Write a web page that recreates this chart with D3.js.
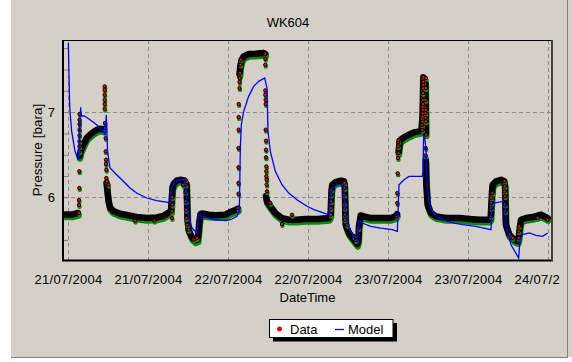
<!DOCTYPE html>
<html><head><meta charset="utf-8">
<script src="https://cdn.jsdelivr.net/npm/d3@7"></script>
<style>
html,body{margin:0;padding:0;background:#fff;}
svg{display:block;font-family:"Liberation Sans",Arial,sans-serif;}
</style></head>
<body>
<svg id="chart" width="572" height="362"></svg>
<script>
// ---------- data (hours since 21/07/2004 00:00, pressure in bara) ----------
const chartTitle = "WK604";
const xTitle = "DateTime";
const yTitle = "Pressure [bara]";
const xTickHours = [0, 12, 24, 36, 48, 60, 72];
const xTickLabels = ["21/07/2004","21/07/2004","22/07/2004","22/07/2004","23/07/2004","23/07/2004","24/07/2004"];
const yTickValues = [6, 7];
const seriesNames = ["Data", "Model"];

// dense logged record (null = break in the record trace)
const dataBandHours = [
  -0.45, 0.6, 1.5, null,
  1.73, 1.95, 2.3, 2.8, 3.3, 3.8, 4.3, 4.8, 5.33, null,
  5.78, 5.93, 6.08, 6.3, 6.8, 7.8, 8.8, 10.3, 11.8, 13.3, 14.3, 15.0, 15.45,
  15.68, 15.9, 16.3, 16.8, 17.4, 17.78,
  17.93, 18.1, 18.6, 19.1, 19.46, 19.58, 19.7, 19.88, 20.1, 21.1, 22.1, 23.6, 24.35, 25.1, 25.5, null,
  25.73, 25.85, 26.03, 26.35, 27.1, 28.1, 29.35, 29.6, null,
  29.7, 29.85, 30.35, 31.1, 32.1, 33.1, 34.35, 35.6, 37.4, 39.15, 39.38,
  39.53, 39.65, 40.15, 40.9, 41.4, 41.5,
  41.63, 41.66, 42.15, 42.9, 43.4, 43.55, 43.65, 43.9, 44.4, 45.4, 46.9, 48.4, 49.15, 49.35, null,
  49.58, 49.73, 49.9, 50.4, 51.15, 51.9, 52.65, 53.0, 53.18, 53.3, 53.6, 53.68, null,
  53.65, 53.75, 53.95, 54.45, 55.2, 56.7, 58.7, 60.2, 61.7, 63.2, 63.4,
  63.6, 63.7, 64.2, 64.95, 65.45, 65.55,
  65.66, 65.7, 66.2, 66.95, 67.46, 67.6, 67.76, 67.95, 68.7, 69.7, 70.95, 71.95
];
const dataBandBara = [
  5.798, 5.798, 5.816, null,
  6.484, 6.555, 6.617, 6.695, 6.734, 6.766, 6.789, 6.804, 6.795, null,
  6.168, 6.062, 5.957, 5.880, 5.839, 5.808, 5.793, 5.769, 5.757, 5.763, 5.781, 5.816, 5.839,
  6.121, 6.162, 6.195, 6.206, 6.197, 6.156,
  5.734, 5.617, 5.529, 5.494, 5.505, 5.593, 5.710, 5.804, 5.810, 5.796, 5.789, 5.796, 5.828, 5.851, 5.866, null,
  7.445, 7.539, 7.610, 7.653, 7.680, 7.683, 7.692, 7.680, null,
  6.015, 5.953, 5.895, 5.816, 5.757, 5.737, 5.737, 5.746, 5.746, 5.757, 5.793,
  6.086, 6.148, 6.179, 6.195, 6.188, 6.133,
  5.722, 5.679, 5.582, 5.503, 5.453, 5.499, 5.664, 5.787, 5.777, 5.757, 5.757, 5.757, 5.777, 5.804, null,
  6.531, 6.637, 6.675, 6.703, 6.734, 6.762, 6.774, 6.781, 6.950, 7.407, 7.350, 6.750, null,
  6.437, 6.148, 5.913, 5.816, 5.777, 5.757, 5.757, 5.746, 5.737, 5.737, 5.757,
  6.062, 6.148, 6.188, 6.206, 6.188, 6.133,
  5.722, 5.679, 5.562, 5.503, 5.484, 5.523, 5.640, 5.737, 5.757, 5.769, 5.796, 5.757
];

// individually visible data markers
const markerHours = [
  1.65,1.65,1.65,1.7,1.7,1.73,1.73,1.73,1.73,1.73,1.73,1.73,1.73,
  5.5,5.5,5.5,5.5,5.5,5.5,5.55,5.55,5.65,5.65,5.7,5.7,5.75,5.75,5.85,6.05,
  10.05,12.95,
  15.6,15.6,15.65,15.65,17.25,
  17.63,17.65,17.65,17.7,17.7,17.75,17.85,18.1,18.85,19.35,
  25.55,25.58,25.58,25.58,25.58,25.6,25.6,25.6,25.73,25.73,25.75,25.8,25.85,25.9,
  29.6,29.6,29.6,29.6,29.6,29.65,29.65,29.65,29.7,29.7,29.7,29.75,29.75,29.75,29.8,29.8,29.85,30.35,32.1,33.6,
  39.4,39.4,39.45,39.45,39.5,
  41.45,41.48,41.48,41.5,41.5,41.55,41.55,
  41.9,42.9,43.2,43.55,
  49.35,49.4,49.4,49.45,49.5,49.55,49.55,49.55,49.58,
  53.15,53.15,53.18,53.18,53.2,53.2,53.2,53.25,53.25,53.25,53.25,53.3,53.3,53.3,
  53.63,53.63,53.63,53.65,53.65,53.65,53.7,53.7,53.7,53.7,53.7,
  63.45,63.45,63.5,63.5,63.7,
  65.48,65.5,65.5,65.55,65.55,65.6,
  66.2,66.7,67.6,67.6,67.65,
  70.45,71.95
];
const markerBara = [
  5.816,5.910,5.968,6.109,6.305,6.539,6.598,6.657,6.727,6.793,6.859,6.910,6.977,
  7.301,7.261,7.203,7.144,7.094,7.039,6.871,6.812,6.695,6.539,6.441,6.390,6.324,6.226,6.188,6.148,
  5.726,5.726,
  5.757,5.836,5.913,6.0,6.148,
  6.206,6.148,6.062,5.953,5.855,5.757,5.679,5.620,5.503,5.523,
  5.875,6.042,6.168,6.352,6.578,6.793,6.941,7.094,7.281,7.352,7.399,7.457,7.554,7.613,
  7.680,7.625,7.554,7.254,7.203,7.144,7.094,6.793,6.664,6.558,6.469,6.363,6.305,6.246,6.206,6.148,6.070,5.933,5.687,5.796,
  5.796,5.875,5.953,6.031,6.089,
  6.168,6.109,6.031,5.933,5.875,5.796,5.737,
  5.679,5.543,5.499,5.640,
  5.777,5.933,6.050,6.281,6.461,6.519,6.598,6.648,6.672,
  6.789,6.848,6.886,6.945,6.985,7.023,7.062,7.094,7.141,7.223,7.278,7.320,7.355,7.407,
  7.141,7.047,6.988,6.930,6.578,6.492,7.027,6.891,6.734,7.399,7.281,
  5.777,5.875,5.933,5.992,6.050,
  6.188,6.129,6.070,6.012,5.913,5.836,
  5.562,5.523,5.523,5.601,5.660,
  5.757,5.737
];

// model curve
const modelHours = [
  0.05,0.23,0.3,0.55,1.05,1.55,1.7,1.9,1.98,2.55,3.3,4.3,5.05,5.55,5.75,5.93,6.3,7.3,8.3,9.3,10.3,11.8,13.3,14.8,15.3,
  15.55,16.05,16.8,17.55,17.85,18.1,18.6,19.35,19.6,20.1,21.1,22.1,23.6,24.35,25.35,25.7,
  25.85,26.0,26.35,27.1,27.85,28.6,29.5,29.85,30.0,30.35,31.1,32.1,33.1,34.35,35.85,36.9,38.4,39.15,
  39.4,39.65,40.4,41.3,41.66,42.15,42.9,43.4,43.65,44.15,45.4,46.9,48.65,49.4,
  49.65,50.4,51.15,53.15,53.25,53.35,53.55,53.7,53.85,54.2,54.95,56.2,57.7,59.2,61.2,63.45,
  63.6,63.95,65.2,65.55,65.7,66.45,67.6,67.8,68.2,69.2,70.2,71.2,71.95
];
const modelBara = [
  7.809,7.141,7.008,6.774,6.539,6.441,6.695,7.055,6.961,6.950,6.910,6.851,6.793,6.734,6.968,6.539,6.344,6.265,6.188,6.109,6.050,5.992,5.960,5.945,5.933,
  6.109,6.188,6.206,6.206,5.913,5.757,5.640,5.582,5.796,5.777,5.757,5.737,5.726,5.737,5.777,5.836,
  6.578,6.851,7.008,7.184,7.301,7.360,7.399,7.281,6.774,6.539,6.305,6.148,6.050,5.972,5.895,5.855,5.816,5.796,
  6.031,6.109,6.148,6.148,5.796,5.640,5.543,5.484,5.719,5.699,5.660,5.640,5.620,5.601,
  6.148,6.206,6.246,6.246,6.305,6.730,6.672,6.578,6.148,5.913,5.796,5.737,5.699,5.679,5.660,5.620,
  5.933,5.933,5.953,5.933,5.679,5.444,5.288,5.503,5.562,5.582,5.555,5.543,5.582
];

// ---------- drawing ----------
const svg = d3.select("#chart");
const W = 572, H = 362;
const plot = {left: 64, top: 40, right: 551, bottom: 260};

// panel
svg.append("rect").attr("x", 11).attr("y", 0).attr("width", 561).attr("height", 357).attr("fill", "#d4d0c8");
svg.append("line").attr("x1", 11).attr("x2", 568).attr("y1", 357.5).attr("y2", 357.5).attr("stroke", "#808080");
svg.append("line").attr("x1", 567.5).attr("x2", 567.5).attr("y1", 0).attr("y2", 358).attr("stroke", "#808080");

const x = d3.scaleLinear().domain([-0.6, 72.45]).range([plot.left, plot.right]);
const y = d3.scaleLinear().domain([5.265, 7.845]).range([plot.bottom, plot.top]);

const defs = svg.append("defs");
defs.append("clipPath").attr("id", "plotClip").append("rect")
  .attr("x", plot.left).attr("y", plot.top).attr("width", plot.right - plot.left).attr("height", plot.bottom - plot.top);
defs.append("clipPath").attr("id", "labelClip").append("rect")
  .attr("x", 0).attr("y", 0).attr("width", 560).attr("height", H);

// gridlines
const grid = svg.append("g").attr("stroke", "#8a8a8a").attr("stroke-dasharray", "4,3").attr("stroke-width", 1);
grid.selectAll("line.gx").data(xTickHours).join("line")
  .attr("x1", d => Math.round(x(d)) + 0.5).attr("x2", d => Math.round(x(d)) + 0.5)
  .attr("y1", plot.top).attr("y2", plot.bottom);
grid.selectAll("line.gy").data(yTickValues).join("line")
  .attr("y1", d => Math.round(y(d)) + 0.5).attr("y2", d => Math.round(y(d)) + 0.5)
  .attr("x1", plot.left).attr("x2", plot.right);

// axes (ticks inward)
const yMinor = d3.range(5.5, 7.8, 0.25);
const yAxis = d3.axisLeft(y).tickValues(yMinor).tickSizeInner(-4).tickSizeOuter(0).tickPadding(9)
  .tickFormat(d => yTickValues.some(v => Math.abs(v - d) < 1e-6) ? d3.format("d")(d) : "");
const gy = svg.append("g").attr("transform", `translate(${plot.left},0)`).call(yAxis);
gy.select(".domain").remove();
gy.selectAll(".tick line").attr("stroke", "#808080");
gy.selectAll("text").attr("font-size", 13).attr("fill", "#000").attr("font-family", "Liberation Sans, Arial, sans-serif");

const xMinor = d3.range(0, 72.01, 3);
const xAxis = d3.axisBottom(x).tickValues(xMinor).tickSizeInner(-4).tickSizeOuter(0).tickPadding(15)
  .tickFormat(d => { const i = xTickHours.indexOf(d); return i >= 0 ? xTickLabels[i] : ""; });
const gx = svg.append("g").attr("transform", `translate(0,${plot.bottom})`).attr("clip-path", "url(#labelClip)").call(xAxis);
gx.select(".domain").remove();
gx.selectAll(".tick line").attr("stroke", "#808080");
gx.selectAll("text").attr("font-size", 13).attr("fill", "#000").attr("letter-spacing", "0.3px")
  .attr("font-family", "Liberation Sans, Arial, sans-serif");

// series
const gPlot = svg.append("g").attr("clip-path", "url(#plotClip)");
const band = dataBandHours.map((t, i) => ({t, p: dataBandBara[i]}));
const bandLine = d3.line().defined(d => d.t != null && d.p != null).x(d => x(d.t)).y(d => y(d.p));
gPlot.append("path").datum(band).attr("d", bandLine).attr("fill", "none")
  .attr("stroke", "#0b8a0b").attr("stroke-width", 6.5).attr("stroke-linejoin", "round").attr("stroke-linecap", "round")
  .attr("transform", "translate(0.5,2.5)");
gPlot.append("path").datum(band).attr("d", bandLine).attr("fill", "none")
  .attr("stroke", "#000").attr("stroke-width", 6.5).attr("stroke-linejoin", "round").attr("stroke-linecap", "round");

const markers = markerHours.map((t, i) => ({t, p: markerBara[i]}));
gPlot.selectAll("circle.gm").data(markers).join("circle")
  .attr("cx", d => x(d.t) + 0.5).attr("cy", d => y(d.p) + 1.8)
  .attr("r", 2.2).attr("fill", "#0b8a0b");
gPlot.selectAll("circle.m").data(markers).join("circle")
  .attr("cx", d => x(d.t)).attr("cy", d => y(d.p))
  .attr("r", 1.7).attr("fill", "#ff0000").attr("stroke", "#000").attr("stroke-width", 1);

const model = modelHours.map((t, i) => ({t, p: modelBara[i]}));
gPlot.append("path").datum(model)
  .attr("d", d3.line().x(d => x(d.t)).y(d => y(d.p)))
  .attr("fill", "none").attr("stroke", "#0000ff").attr("stroke-width", 1.3);

// frame
svg.append("line").attr("x1", plot.left).attr("x2", plot.right + 1).attr("y1", plot.top + 0.5).attr("y2", plot.top + 0.5).attr("stroke", "#000");
svg.append("line").attr("x1", plot.left - 1).attr("x2", plot.left - 1).attr("y1", plot.top).attr("y2", plot.bottom + 1).attr("stroke", "#000").attr("stroke-width", 2);
svg.append("line").attr("x1", plot.left - 2).attr("x2", plot.right + 2).attr("y1", plot.bottom + 0.5).attr("y2", plot.bottom + 0.5).attr("stroke", "#000").attr("stroke-width", 2);
svg.append("line").attr("x1", plot.right + 1).attr("x2", plot.right + 1).attr("y1", plot.top).attr("y2", plot.bottom + 1).attr("stroke", "#404040").attr("stroke-width", 2);

// titles
svg.append("text").attr("x", 288).attr("y", 27).attr("text-anchor", "middle").attr("font-size", 13).text(chartTitle);
svg.append("text").attr("x", (plot.left + plot.right) / 2).attr("y", 301.5).attr("text-anchor", "middle").attr("font-size", 13).text(xTitle);
svg.append("text").attr("transform", "translate(41.5,150) rotate(-90)").attr("text-anchor", "middle").attr("font-size", 13.5).text(yTitle);

// legend
const lg = svg.append("g");
lg.append("rect").attr("x", 273).attr("y", 323).attr("width", 124).attr("height", 18.5).attr("fill", "#000");
lg.append("rect").attr("x", 269.5).attr("y", 319.5).attr("width", 123.5).attr("height", 18).attr("fill", "#fff").attr("stroke", "#000");
lg.append("circle").attr("cx", 279.5).attr("cy", 329).attr("r", 2.2).attr("fill", "#ff0000").attr("stroke", "#800000").attr("stroke-width", 0.5);
lg.append("text").attr("x", 290).attr("y", 333.5).attr("font-size", 13).text(seriesNames[0]);
lg.append("line").attr("x1", 335).attr("x2", 344).attr("y1", 329.5).attr("y2", 329.5).attr("stroke", "#0000ff").attr("stroke-width", 1.3);
lg.append("text").attr("x", 348).attr("y", 333.5).attr("font-size", 13).text(seriesNames[1]);
</script>
</body></html>
